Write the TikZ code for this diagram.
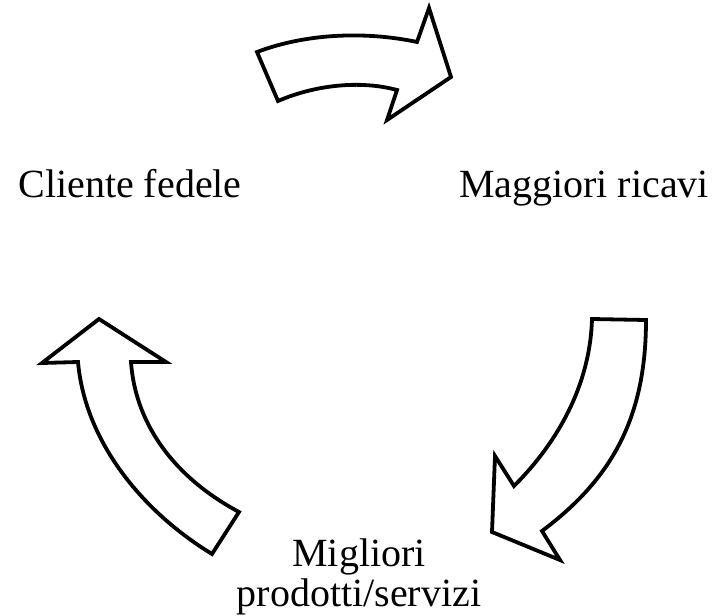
\documentclass[tikz,border=0pt]{standalone}
\usepackage{fontspec}
\setmainfont{Liberation Serif}
\begin{document}
\begin{tikzpicture}[x=1pt,y=-1pt,
  bigarrow/.style={draw=black,line width=3.8pt,fill=white,line join=miter},
  lbl/.style={font=\fontsize{40}{40}\selectfont,inner sep=0pt,anchor=base,align=center}]
\useasboundingbox (0,0) rectangle (718,616);
% top arrow
\draw[bigarrow] (257,52) .. controls (310,32) and (370,32) .. (417,42)
  -- (429,8) -- (451,77) -- (387,120) -- (397,90)
  .. controls (360,80) and (315,85) .. (278,101) -- cycle;
% right arrow
\draw[bigarrow] (592,319) -- (646,320)
  .. controls (646,420) and (610,480) .. (542,531)
  -- (560,560) -- (492,532) -- (495,456) -- (514,486)
  .. controls (558,442) and (590,385) .. (592,319) -- cycle;
% left arrow
\draw[bigarrow] (99,319) -- (42,363) -- (78,362)
  .. controls (85,440) and (140,510) .. (212,554)
  -- (239,512)
  .. controls (170,475) and (135,420) .. (131,362)
  -- (166,362) -- cycle;
\node[lbl] (cliente) at (130,197) {Cliente fedele};
\node[lbl] (ricavi) at (584,197) {Maggiori ricavi};
\node[lbl] (migliori) at (359,606) {Migliori\\prodotti/servizi};
\end{tikzpicture}
\end{document}
